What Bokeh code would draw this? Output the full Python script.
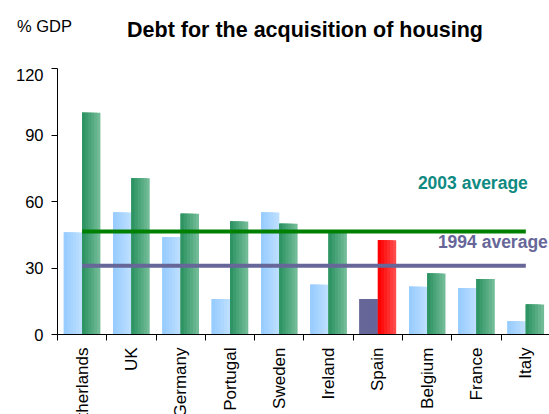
import numpy as np
from bokeh.plotting import figure
from bokeh.layouts import column
from bokeh.models import Range1d, FixedTicker, ColumnDataSource, Label, Div
from bokeh.embed import file_html
from bokeh.resources import INLINE

# ---- data ----
countries = ["Netherlands", "UK", "Germany", "Portugal", "Sweden",
             "Ireland", "Spain", "Belgium", "France", "Italy"]
debt_1994 = [46, 55, 44, 16, 55, 22.5, 16, 21.5, 21, 6]
debt_2003 = [100, 70.5, 54.5, 51, 50, 46, 42.5, 27.5, 25, 13.5]
avg_1994 = 31
avg_2003 = 46.5
highlight = "Spain"
y_ticks = [0, 30, 60, 90, 120]
title_text = "Debt for the acquisition of housing"
unit_text = "% GDP"

FONT = "Liberation Sans"
n = len(countries)
idx = np.arange(n)
bar_w = 0.37


def mix(c1, c2, t):
    a = [int(c1[i:i + 2], 16) for i in (1, 3, 5)]
    b = [int(c2[i:i + 2], 16) for i in (1, 3, 5)]
    return "#%02x%02x%02x" % tuple(round(x + (y - x) * t) for x, y in zip(a, b))


p = figure(frame_width=492, frame_height=266, output_backend="svg", toolbar_location=None,
           x_range=Range1d(-0.5, n - 0.5 - 0.02), y_range=Range1d(0, 120),
           min_border_left=57, min_border_right=0, min_border_top=0,
           min_border_bottom=0, title=None, margin=0)
p.outline_line_color = None
p.background_fill_color = "white"
p.border_fill_color = "white"


def gradient_bars(offset, values, left_cols, right_cols, layers=6):
    left_edge = idx + offset - bar_w / 2
    for k in range(layers):
        wk = bar_w * (layers - k) / layers
        t = k / (layers - 1)
        cols = [mix(r, l, t) for l, r in zip(left_cols, right_cols)]
        src = ColumnDataSource(dict(x=left_edge + wk / 2, top=values, color=cols))
        p.vbar(x="x", top="top", bottom=0, width=wk, source=src,
               fill_color="color", line_color=None)


is_hl = [c == highlight for c in countries]
l94 = ["#666699" if h else "#99ccff" for h in is_hl]
r94 = ["#666699" if h else "#bcdfff" for h in is_hl]
l03 = ["#ff0000" if h else "#2e9463" for h in is_hl]
r03 = ["#ff4a4a" if h else "#72bb97" for h in is_hl]

gradient_bars(-bar_w / 2, debt_1994, l94, r94)
gradient_bars(bar_w / 2, debt_2003, l03, r03)

# average lines
p.segment(x0=idx[0], x1=idx[-1], y0=avg_2003, y1=avg_2003,
          line_color="#008000", line_width=4)
p.segment(x0=idx[0], x1=idx[-1], y0=avg_1994, y1=avg_1994,
          line_color="#666699", line_width=4)

p.add_layout(Label(x=idx[-1], y=avg_2003, text="2003 average", text_align="right",
                   text_baseline="alphabetic",
                   x_offset=2, y_offset=48, text_font=FONT, text_font_size="17.5px",
                   text_font_style="bold", text_color="#0f8a82"))
p.add_layout(Label(x=idx[-1], y=avg_1994, text="1994 average", text_align="right",
                   text_baseline="alphabetic",
                   x_offset=22, y_offset=24, text_font=FONT, text_font_size="17.5px",
                   text_font_style="bold", text_color="#666699"))

# axes
p.yaxis.ticker = FixedTicker(ticks=y_ticks)
p.yaxis.major_tick_out = 6
p.yaxis.major_tick_in = 0
p.yaxis.minor_tick_line_color = None
p.yaxis.major_label_standoff = 8
p.yaxis.major_label_text_font = FONT
p.yaxis.major_label_text_font_size = "16.5px"
p.yaxis.major_label_text_color = "black"
p.yaxis.axis_line_color = "black"
p.yaxis.major_tick_line_color = "black"

p.xaxis.ticker = FixedTicker(ticks=list(idx), minor_ticks=list(idx - 0.5) + [n - 0.5])
p.xaxis.major_label_overrides = {int(i): c for i, c in zip(idx, countries)}
p.xaxis.major_label_orientation = np.pi / 2
p.xaxis.major_tick_out = 0
p.xaxis.major_tick_in = 0
p.xaxis.major_tick_line_color = None
p.xaxis.minor_tick_out = 6
p.xaxis.minor_tick_in = 0
p.xaxis.minor_tick_line_color = "black"
p.xaxis.major_label_standoff = 7
p.xaxis.major_label_text_font = FONT
p.xaxis.major_label_text_font_size = "17px"
p.xaxis.major_label_text_color = "black"
p.xaxis.axis_line_color = "black"

p.xgrid.visible = False
p.ygrid.ticker = FixedTicker(ticks=[y_ticks[-1]])
p.ygrid.grid_line_color = "#606060"
p.ygrid.grid_line_alpha = 1.0

# header with unit and title
header_html = (
    '<div style="position:relative;width:549px;height:68px;font-family:\'Liberation Sans\';color:black;">'
    '<span style="position:absolute;left:17px;top:17.5px;font-size:16.5px;line-height:1;white-space:nowrap;">'
    + unit_text + '</span>'
    '<span style="position:absolute;left:59px;width:492px;top:19.5px;text-align:center;font-size:21.5px;'
    'font-weight:bold;line-height:1;white-space:nowrap;">' + title_text + '</span>'
    '</div>'
)
header = Div(text=header_html, width=549, height=68, margin=0)

layout = column(header, p, spacing=0, margin=0)
open("out.html", "w").write(file_html(layout, INLINE))
